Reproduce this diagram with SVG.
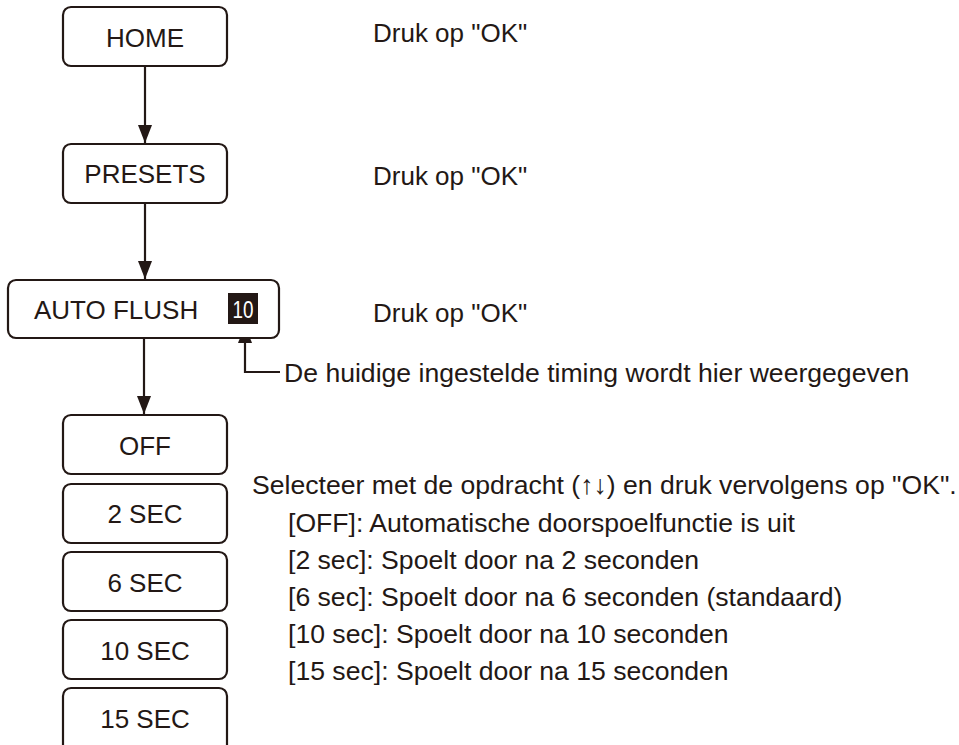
<svg xmlns="http://www.w3.org/2000/svg" width="959" height="745" viewBox="0 0 959 745">
<style>
.box{fill:#fff;stroke:#231815;stroke-width:2.2}
.lbl{font-family:"Liberation Sans",Arial,sans-serif;font-size:26px;fill:#231815;text-anchor:middle}
.txt{font-family:"Liberation Sans",Arial,sans-serif;font-size:26px;fill:#231815}
.desc{font-family:"Liberation Sans",Arial,sans-serif;font-size:26.6px;fill:#231815}
.ln{stroke:#231815;stroke-width:2.2;fill:none}
</style>
<defs>
<marker id="ah" viewBox="0 0 18 14" refX="18" refY="7" markerWidth="18" markerHeight="14" markerUnits="userSpaceOnUse" orient="auto">
<path d="M0,0 L18,7 L0,14 Z" fill="#231815"/>
</marker>
</defs>
<rect width="959" height="745" fill="#fff"/>
<g id="connectors">
<line class="ln" x1="145" y1="66" x2="145" y2="143" marker-end="url(#ah)"/>
<line class="ln" x1="145" y1="203" x2="145" y2="279" marker-end="url(#ah)"/>
<line class="ln" x1="144" y1="338" x2="144" y2="414" marker-end="url(#ah)"/>
<polyline class="ln" points="280,372 245,372 245,325" marker-end="url(#ah)"/>
</g>
<g id="home">
<rect class="box" x="63" y="7" width="164" height="59" rx="8"/>
<text class="lbl" x="145" y="47">HOME</text>
</g>
<g id="presets">
<rect class="box" x="63" y="144" width="164" height="59" rx="8"/>
<text class="lbl" x="145" y="183">PRESETS</text>
</g>
<g id="autoflush">
<rect class="box" x="8" y="280" width="271" height="58" rx="8"/>
<text class="txt" x="34" y="319">AUTO FLUSH</text>
<rect x="228" y="293" width="30" height="31" fill="#231815"/>
<text x="243" y="318" fill="#fff" font-family="'Liberation Sans',Arial,sans-serif" font-size="24" text-anchor="middle" textLength="21" lengthAdjust="spacingAndGlyphs">10</text>
</g>
<g id="off">
<rect class="box" x="63" y="415" width="164" height="59" rx="8"/>
<text class="lbl" x="145" y="455">OFF</text>
</g>
<g id="sec2">
<rect class="box" x="63" y="484" width="164" height="59" rx="8"/>
<text class="lbl" x="145" y="523">2 SEC</text>
</g>
<g id="sec6">
<rect class="box" x="63" y="552" width="164" height="59" rx="8"/>
<text class="lbl" x="145" y="592">6 SEC</text>
</g>
<g id="sec10">
<rect class="box" x="63" y="620" width="164" height="59" rx="8"/>
<text class="lbl" x="145" y="660">10 SEC</text>
</g>
<g id="sec15">
<rect class="box" x="63" y="688" width="164" height="80" rx="8"/>
<text class="lbl" x="145" y="728">15 SEC</text>
</g>
<g id="notes">
<text class="txt" x="373" y="42">Druk op "OK"</text>
<text class="txt" x="373" y="185">Druk op "OK"</text>
<text class="txt" x="373" y="322">Druk op "OK"</text>
<text class="desc" x="284" y="382">De huidige ingestelde timing wordt hier weergegeven</text>
<text class="desc" x="252" y="494">Selecteer met de opdracht (↑↓) en druk vervolgens op "OK".</text>
<text class="desc" x="288" y="532">[OFF]: Automatische doorspoelfunctie is uit</text>
<text class="desc" x="288" y="569">[2 sec]: Spoelt door na 2 seconden</text>
<text class="desc" x="288" y="606">[6 sec]: Spoelt door na 6 seconden (standaard)</text>
<text class="desc" x="288" y="643">[10 sec]: Spoelt door na 10 seconden</text>
<text class="desc" x="288" y="680">[15 sec]: Spoelt door na 15 seconden</text>
</g>
</svg>
